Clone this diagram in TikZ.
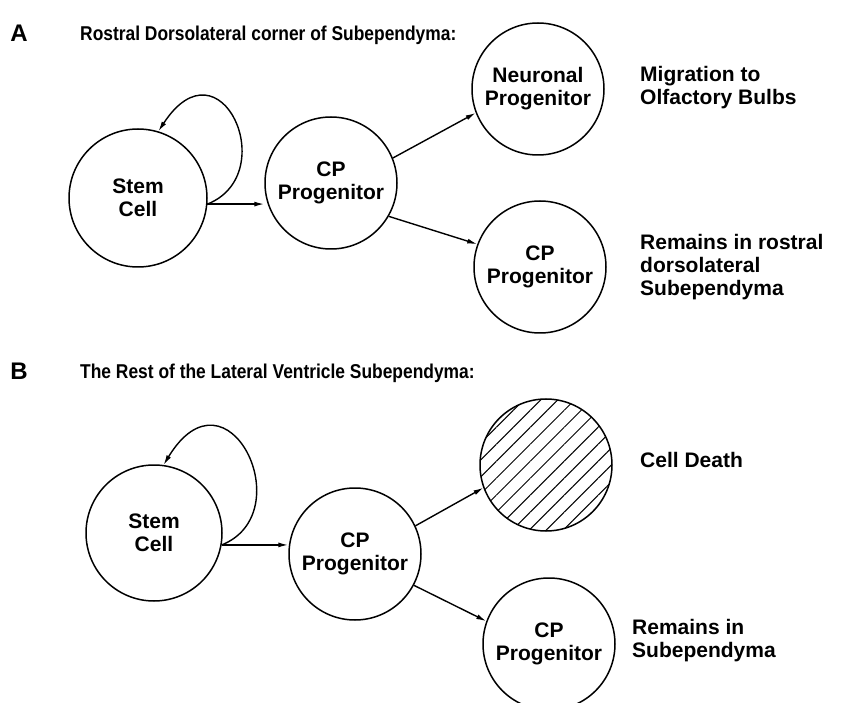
\documentclass[tikz,border=0pt]{standalone}
\usepackage{fontspec}
\setmainfont{Liberation Sans}
\newfontfamily\headfont[FakeStretch=0.87]{Liberation Sans}
\usetikzlibrary{arrows.meta,patterns.meta}

\begin{document}
\begin{tikzpicture}[x=1pt, y=-1pt, >={Latex[length=10pt,width=5pt]},
	cell/.style={draw, circle, line width=1.5pt, minimum size=132pt, inner sep=0pt, align=center, font=\fontsize{21}{23}\selectfont\bfseries},
	note/.style={anchor=west, align=left, inner sep=0pt, font=\fontsize{21}{23}\selectfont\bfseries},
	heading/.style={anchor=west, inner sep=0pt, font=\headfont\fontsize{20}{22}\selectfont\bfseries},
	panel/.style={inner sep=0pt, font=\fontsize{24}{26}\selectfont\bfseries},
	link/.style={->, line width=1.4pt}]
		\useasboundingbox (0,0) rectangle (860,703);
		
		% --- Panel A ---
		\node[panel] (labA) at (19,33) {A};
		\node[heading] (titleA) at (80,35) {Rostral Dorsolateral corner of Subependyma:};
		\node[cell, minimum size=138pt] (stemA) at (138,198) {Stem\\Cell};
		\node[cell] (cpA) at (331,183) {CP\\Progenitor};
		\node[cell] (neuroA) at (538,89) {Neuronal\\Progenitor};
		\node[cell] (cpAr) at (540,267) {CP\\Progenitor};
		\node[note] (migA) at (640,88) {Migration to\\Olfactory Bulbs};
		\node[note] (remA) at (640,267) {Remains in rostral\\dorsolateral\\Subependyma};
		% Self renewal and divisions
		\draw[link] (stemA.-5) .. controls +(75,-30) and +(62,-95) .. (stemA.73);
		\draw[link] (stemA.-5) -- (cpA.west |- stemA.-5);
		\draw[link] (cpA.22) -- (neuroA.201);
		\draw[link] (cpA.-30) -- (cpAr.160);
		
		% --- Panel B ---
		\node[panel] (labB) at (19,371) {B};
		\node[heading] (titleB) at (80,373) {The Rest of the Lateral Ventricle Subependyma:};
		\node[cell, minimum size=136pt] (stemB) at (154,533) {Stem\\Cell};
		\node[cell] (cpB) at (355,554) {CP\\Progenitor};
		\node[cell, pattern={Lines[angle=45,distance=12pt,line width=1pt]}] (deathB) at (546,465) {};
		\node[cell] (cpBr) at (549,644) {CP\\Progenitor};
		\node[note] (deathTxt) at (640,460) {Cell Death};
		\node[note] (remB) at (632,641) {Remains in\\Subependyma};
		% Self renewal and divisions
		\draw[link] (stemB.-10) .. controls +(80,-32) and +(64,-105) .. (stemB.82);
		\draw[link] (stemB.-10) -- (cpB.west |- stemB.-10);
		\draw[link] (cpB.25) -- (deathB.200);
		\draw[link] (cpB.-28) -- (cpBr.160);
		
	\end{tikzpicture}
\end{document}
